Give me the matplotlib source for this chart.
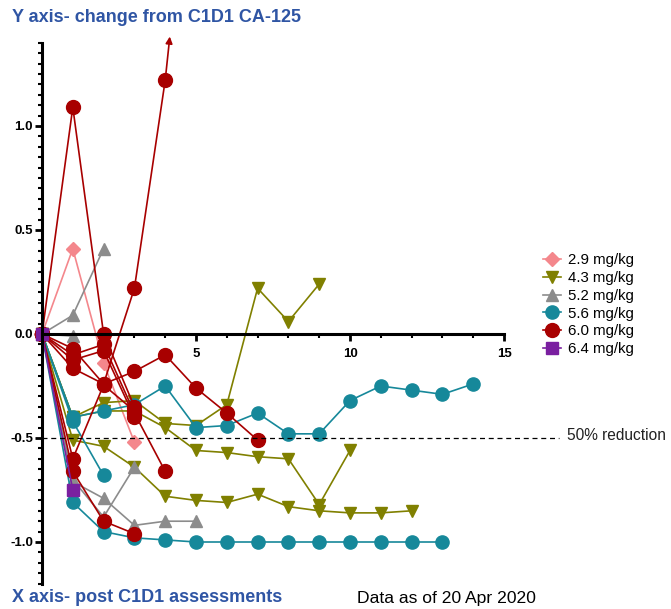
import matplotlib
matplotlib.use("Agg")
import matplotlib.pyplot as plt
import matplotlib.ticker as mticker

plt.rcParams['font.family'] = ['Liberation Sans', 'DejaVu Sans']

# =====================================================
# DATA (change from C1D1 CA-125, one list per patient,
# first value = assessment 0)
# =====================================================

dose_labels = ["2.9 mg/kg", "4.3 mg/kg", "5.2 mg/kg", "5.6 mg/kg", "6.0 mg/kg", "6.4 mg/kg"]
dose_colors = ["#F4878C", "#808000", "#8C8C8C", "#16889A", "#A80000", "#7A1FA0"]
dose_markers = ["D", "v", "^", "o", "o", "s"]
marker_sizes = [7, 9, 9, 9.5, 10, 8]

pts_29 = [
    [0, 0.41, -0.14, -0.52],
]

pts_43 = [
    [0, -0.40, -0.33, -0.32, -0.43, -0.44, -0.34, 0.22, 0.06, 0.24],
    [0, -0.40, -0.37, -0.37, -0.45, -0.56, -0.57, -0.59, -0.60, -0.82, -0.56],
    [0, -0.51, -0.54, -0.64, -0.78, -0.80, -0.81, -0.77, -0.83, -0.85, -0.86, -0.86, -0.85],
]

pts_52 = [
    [0, 0.09, 0.41],
    [0, -0.01],
    [0, -0.71, -0.79, -0.92, -0.90, -0.90],
    [0, -0.70, -0.88, -0.64],
]

pts_56 = [
    [0, -0.81, -0.95, -0.98, -0.99, -1.0, -1.0, -1.0, -1.0, -1.0, -1.0, -1.0, -1.0, -1.0],
    [0, -0.42, -0.68],
    [0, -0.40, -0.37, -0.34, -0.25, -0.45, -0.44, -0.38, -0.48, -0.48, -0.32, -0.25, -0.27, -0.29, -0.24],
]

pts_60 = [
    [0, 1.09, 0.0, -0.35],
    [0, -0.07, -0.24, 0.22, 1.22],
    [0, -0.165, -0.24, -0.18, -0.10, -0.26, -0.38, -0.51],
    [0, -0.10, -0.05, -0.38, -0.66],
    [0, -0.125, -0.08, -0.40],
    [0, -0.60, -0.245, -0.37],
    [0, -0.66, -0.90, -0.96],
]

pts_64 = [
    [0, -0.75],
]

all_doses = [pts_29, pts_43, pts_52, pts_56, pts_60, pts_64]

# arrow: value off the scale
arrow_from = (4, 1.22)
arrow_to = (4.15, 1.43)

# =====================================================
# PLOT
# =====================================================

fig = plt.figure(figsize=(6.71, 6.09), dpi=100)
ax = fig.add_axes([42/671, 1-583.6/609, (504-42)/671, (583.6-42.8)/609])

for pts, lab, col, mk, ms in zip(all_doses, dose_labels, dose_colors, dose_markers, marker_sizes):
    for i, vals in enumerate(pts):
        ax.plot(range(len(vals)), vals, color=col, marker=mk, markersize=ms,
                lw=1.2, clip_on=False, label=lab if i == 0 else None)

ax.annotate("", xy=arrow_to, xytext=arrow_from, annotation_clip=False,
            arrowprops=dict(arrowstyle="-|>", color=dose_colors[4], lw=1.2,
                            mutation_scale=10, shrinkA=0, shrinkB=0))

# 50% reduction line
ax.plot([0, 16.8], [-0.5, -0.5], ls=(0, (4, 3)), color="black", lw=0.9, clip_on=False)
fig.text(567/671, 1-436/609, "50% reduction", fontsize=11.2, color="#222222", va="center")

ax.set_xlim(0, 15)
ax.set_ylim(-1.2, 1.4)

for s in ["top", "right"]:
    ax.spines[s].set_visible(False)
ax.spines["bottom"].set_position(("data", 0))
ax.spines["left"].set_linewidth(2.2)
ax.spines["bottom"].set_linewidth(2.2)

ax.xaxis.set_major_locator(mticker.FixedLocator([5, 10, 15]))
ax.xaxis.set_minor_locator(mticker.MultipleLocator(1))
ax.yaxis.set_major_locator(mticker.MultipleLocator(0.5))
ax.yaxis.set_minor_locator(mticker.MultipleLocator(0.05))
ax.yaxis.set_major_formatter(mticker.FormatStrFormatter("%.1f"))

ax.tick_params(which="major", length=5, width=2, labelsize=9.5, pad=1.5)
ax.tick_params(axis="x", which="major", pad=5)
ax.tick_params(which="minor", length=3, width=1.5)
for t in ax.get_xticklabels() + ax.get_yticklabels():
    t.set_fontweight("bold")

fig.legend(loc="upper left", bbox_to_anchor=(535/671, 1-246/609), frameon=False,
           fontsize=10.8, handlelength=1.2, handletextpad=0.5, labelspacing=0.25,
           borderpad=0)

blue = "#2F55A4"
fig.text(12/671, 1-18/609, "Y axis- change from C1D1 CA-125", color=blue,
         fontweight="bold", fontsize=13, va="center")
fig.text(12/671, 1-598/609, "X axis- post C1D1 assessments", color=blue,
         fontweight="bold", fontsize=13, va="center")
fig.text(357/671, 1-598/609, "Data as of 20 Apr 2020", color="black",
         fontsize=12.6, va="center")

fig.savefig("out.png", dpi=100)
